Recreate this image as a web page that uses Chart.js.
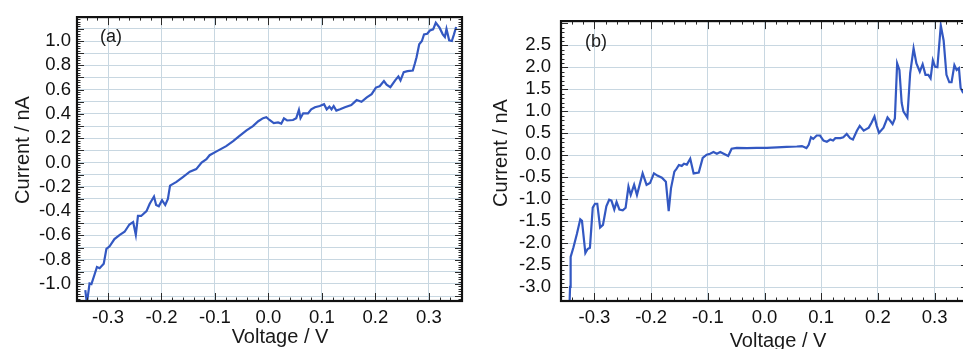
<!DOCTYPE html>
<html>
<head>
<meta charset="utf-8">
<script src="https://cdn.jsdelivr.net/npm/chart.js@4.4.1/dist/chart.umd.min.js"></script>
<style>
  html, body { margin: 0; padding: 0; }
  body { width: 963px; height: 349px; overflow: hidden; position: relative; background: #ffffff; }
  #wa { position: absolute; left: 0; top: 0; width: 480px; height: 349px; }
  #wb { position: absolute; left: 480px; top: 0; width: 500px; height: 349px; }
  canvas { display: block; }
</style>
</head>
<body>
<div id="wa"><canvas id="ca" width="480" height="349"></canvas></div>
<div id="wb"><canvas id="cb" width="500" height="349"></canvas></div>
<script>
// ---------- data ----------
const voltageA = [-0.3425,-0.3395,-0.3345,-0.331,-0.325,-0.3207,-0.3157,-0.308,-0.303,-0.297,-0.288,-0.278,-0.269,-0.26,-0.253,-0.248,-0.244,-0.238,-0.228,-0.222,-0.214,-0.21,-0.205,-0.199,-0.193,-0.188,-0.184,-0.172,-0.16,-0.147,-0.135,-0.125,-0.116,-0.11,-0.097,-0.079,-0.066,-0.054,-0.041,-0.029,-0.019,-0.01,-0.004,0.002,0.01,0.018,0.024,0.029,0.035,0.046,0.052,0.057,0.06,0.065,0.074,0.08,0.087,0.096,0.104,0.109,0.114,0.118,0.122,0.127,0.134,0.143,0.155,0.165,0.174,0.184,0.193,0.201,0.208,0.216,0.221,0.228,0.237,0.243,0.247,0.253,0.26,0.27,0.274,0.277,0.282,0.287,0.291,0.297,0.302,0.308,0.313,0.32,0.326,0.33,0.333,0.338,0.343,0.347,0.351];
const currentA = [-1.05,-1.16,-0.995,-1.0,-0.92,-0.86,-0.87,-0.833,-0.71,-0.69,-0.63,-0.595,-0.57,-0.51,-0.49,-0.595,-0.44,-0.44,-0.40,-0.34,-0.28,-0.35,-0.36,-0.31,-0.35,-0.30,-0.19,-0.16,-0.12,-0.076,-0.054,0.0,0.027,0.06,0.092,0.135,0.176,0.22,0.265,0.30,0.34,0.365,0.373,0.35,0.325,0.33,0.32,0.363,0.346,0.35,0.365,0.433,0.365,0.405,0.405,0.438,0.455,0.465,0.48,0.438,0.46,0.438,0.465,0.427,0.438,0.455,0.473,0.514,0.50,0.536,0.563,0.617,0.628,0.67,0.64,0.62,0.676,0.709,0.676,0.744,0.752,0.757,0.817,0.866,0.974,1.0,1.055,1.06,1.087,1.096,1.15,1.11,1.055,1.033,1.10,1.006,1.0,1.055,1.115];

const voltageB = [-0.344,-0.343,-0.342,-0.337,-0.331,-0.325,-0.322,-0.316,-0.312,-0.308,-0.303,-0.299,-0.295,-0.29,-0.285,-0.279,-0.274,-0.27,-0.265,-0.261,-0.256,-0.25,-0.245,-0.24,-0.236,-0.23,-0.225,-0.215,-0.208,-0.202,-0.195,-0.189,-0.181,-0.174,-0.169,-0.165,-0.159,-0.155,-0.151,-0.146,-0.142,-0.137,-0.131,-0.125,-0.116,-0.109,-0.102,-0.096,-0.09,-0.084,-0.078,-0.072,-0.064,-0.058,-0.049,-0.031,-0.014,0.004,0.022,0.039,0.057,0.066,0.074,0.078,0.082,0.086,0.092,0.098,0.104,0.11,0.116,0.121,0.125,0.134,0.139,0.145,0.151,0.156,0.163,0.168,0.175,0.184,0.189,0.194,0.198,0.202,0.21,0.217,0.222,0.226,0.23,0.234,0.238,0.242,0.245,0.252,0.257,0.263,0.268,0.274,0.279,0.284,0.289,0.293,0.297,0.301,0.305,0.311,0.316,0.321,0.326,0.33,0.335,0.339,0.343,0.346,0.35,0.356];
const currentB = [-3.4,-2.99,-2.31,-2.09,-1.79,-1.455,-1.49,-2.22,-2.13,-2.10,-1.19,-1.10,-1.10,-1.64,-1.58,-1.16,-1.01,-1.03,-1.23,-1.06,-1.23,-1.25,-1.19,-0.71,-0.90,-0.67,-0.90,-0.41,-0.67,-0.63,-0.41,-0.46,-0.51,-0.60,-1.27,-0.75,-0.37,-0.30,-0.22,-0.24,-0.19,-0.21,-0.075,-0.41,-0.39,-0.06,0.015,0.037,0.075,0.037,0.075,0.037,-0.015,0.15,0.17,0.164,0.17,0.17,0.18,0.19,0.20,0.21,0.164,0.24,0.41,0.373,0.45,0.45,0.336,0.31,0.36,0.336,0.39,0.39,0.41,0.485,0.39,0.36,0.56,0.67,0.56,0.63,0.746,0.88,0.67,0.51,0.63,0.86,0.78,0.71,0.836,2.09,1.94,1.19,1.0,0.86,1.87,2.43,2.09,1.90,2.07,1.83,1.83,1.75,2.16,2.01,2.0,2.95,2.61,1.83,1.66,1.66,2.05,1.94,1.98,1.53,1.43,1.4];

// tick values
const xTicks = [-0.3,-0.2,-0.1,0.0,0.1,0.2,0.3];
const yGridA = [-1.1,-1.0,-0.9,-0.8,-0.7,-0.6,-0.5,-0.4,-0.3,-0.2,-0.1,0.0,0.1,0.2,0.3,0.4,0.5,0.6,0.7,0.8,0.9,1.0,1.1];
const yLabelsA = [-1.0,-0.8,-0.6,-0.4,-0.2,0.0,0.2,0.4,0.6,0.8,1.0];
const yGridB = [-3.0,-2.5,-2.0,-1.5,-1.0,-0.5,0.0,0.5,1.0,1.5,2.0,2.5];
const yLabelsB = [-3.0,-2.5,-2.0,-1.5,-1.0,-0.5,0.0,0.5,1.0,1.5,2.0,2.5];

const xTitle = 'Voltage / V';
const yTitle = 'Current / nA';

// ---------- drawing helpers ----------
const FONT = '"Liberation Sans", Arial, Helvetica, sans-serif';
const LINE_COLOR = '#3358c2';
const GRID_COLOR = '#c8d7e1';

function fmt(v) {
  return Math.abs(v) < 1e-9 ? '0.0' : v.toFixed(1);
}

const framePlugin = {
  id: 'frame',
  afterDraw(chart, args, o) {
    const { ctx, chartArea: a, scales: { x, y } } = chart;
    ctx.save();
    ctx.beginPath();
    ctx.strokeStyle = '#2a2a2a';
    ctx.lineWidth = 1;
    const eps = 1e-7;
    function xTicksDraw(step, len) {
      const start = Math.ceil(x.min / step - eps);
      for (let k = start; k * step <= x.max + eps; k++) {
        const px = Math.round(x.getPixelForValue(k * step)) + 0.5;
        ctx.moveTo(px, a.bottom); ctx.lineTo(px, a.bottom - len);
        ctx.moveTo(px, a.top); ctx.lineTo(px, a.top + len);
      }
    }
    function yTicksDraw(step, len) {
      const start = Math.ceil(y.min / step - eps);
      for (let k = start; k * step <= y.max + eps; k++) {
        const py = Math.round(y.getPixelForValue(k * step)) + 0.5;
        ctx.moveTo(a.left, py); ctx.lineTo(a.left + len, py);
        ctx.moveTo(a.right, py); ctx.lineTo(a.right - len, py);
      }
    }
    xTicksDraw(o.xMinor, 3.5);
    xTicksDraw(o.xMajor, 8);
    yTicksDraw(o.yMinor, 3.5);
    yTicksDraw(o.yMajor, 7);
    ctx.stroke();

    ctx.lineWidth = 2.2;
    ctx.strokeStyle = '#111';
    ctx.strokeRect(a.left, a.top, a.right - a.left, a.bottom - a.top);

    // titles and panel label
    ctx.fillStyle = '#1a1a1a';
    ctx.font = '20px ' + FONT;
    ctx.textAlign = 'center';
    ctx.textBaseline = 'alphabetic';
    ctx.fillText(xTitle, o.xt[0], o.xt[1]);
    ctx.save();
    ctx.translate(o.yt[0], o.yt[1]);
    ctx.rotate(-Math.PI / 2);
    ctx.fillText(yTitle, 0, 0);
    ctx.restore();
    ctx.font = '18px ' + FONT;
    ctx.textAlign = 'left';
    ctx.textBaseline = 'middle';
    ctx.fillText(o.label, o.lp[0], o.lp[1]);
    ctx.restore();
  }
};

function makeChart(id, cfg) {
  const points = cfg.vx.map((v, i) => ({ x: v, y: cfg.vy[i] }));
  return new Chart(document.getElementById(id), {
    type: 'line',
    data: {
      datasets: [{
        data: points,
        borderColor: LINE_COLOR,
        borderWidth: 2.2,
        pointRadius: 0,
        tension: 0,
        fill: false
      }]
    },
    options: {
      responsive: false,
      animation: false,
      events: [],
      layout: { padding: cfg.pad },
      plugins: {
        legend: { display: false },
        tooltip: { enabled: false },
        frame: cfg.frame
      },
      scales: {
        x: {
          type: 'linear',
          min: cfg.xr[0], max: cfg.xr[1],
          afterBuildTicks: s => { s.ticks = xTicks.map(v => ({ value: v })); },
          afterFit: s => { s.height = cfg.xh; },
          grid: { color: GRID_COLOR, lineWidth: 1, drawTicks: false },
          border: { display: false },
          ticks: {
            autoSkip: false, maxRotation: 0,
            padding: cfg.xpad,
            color: '#111',
            font: { family: FONT, size: 18.5 },
            callback: v => fmt(v)
          }
        },
        y: {
          type: 'linear',
          min: cfg.yr[0], max: cfg.yr[1],
          afterBuildTicks: s => { s.ticks = cfg.yGrid.map(v => ({ value: v })); },
          afterFit: s => { s.width = cfg.yw; },
          grid: { color: GRID_COLOR, lineWidth: 1, drawTicks: false },
          border: { display: false },
          ticks: {
            autoSkip: false,
            padding: cfg.ypad,
            color: '#111',
            font: { family: FONT, size: 18.5 },
            callback: v => cfg.yLabels.some(l => Math.abs(l - v) < 1e-6) ? fmt(v) : ''
          }
        }
      }
    },
    plugins: [framePlugin]
  });
}

makeChart('ca', {
  vx: voltageA, vy: currentA,
  xr: [-0.358, 0.362], yr: [-1.14, 1.197],
  yGrid: yGridA, yLabels: yLabelsA,
  pad: { left: 0, top: 13, right: 18, bottom: 0 },
  yw: 77, xh: 48, xpad: 6, ypad: 6,
  frame: { xMajor: 0.1, xMinor: 0.02, yMajor: 0.1, yMinor: 0.02,
           xt: [280, 343], yt: [28.5, 150], label: '(a)', lp: [100, 37] }
});

makeChart('cb', {
  vx: voltageB, vy: currentB,
  xr: [-0.359, 0.359], yr: [-3.31, 3.05],
  yGrid: yGridB, yLabels: yLabelsB,
  pad: { left: 0, top: 17, right: 12, bottom: 0 },
  yw: 81, xh: 48, xpad: 6, ypad: 10,
  frame: { xMajor: 0.1, xMinor: 0.02, yMajor: 0.5, yMinor: 0.1,
           xt: [298, 347], yt: [26.5, 153], label: '(b)', lp: [105, 42] }
});
</script>
</body>
</html>
